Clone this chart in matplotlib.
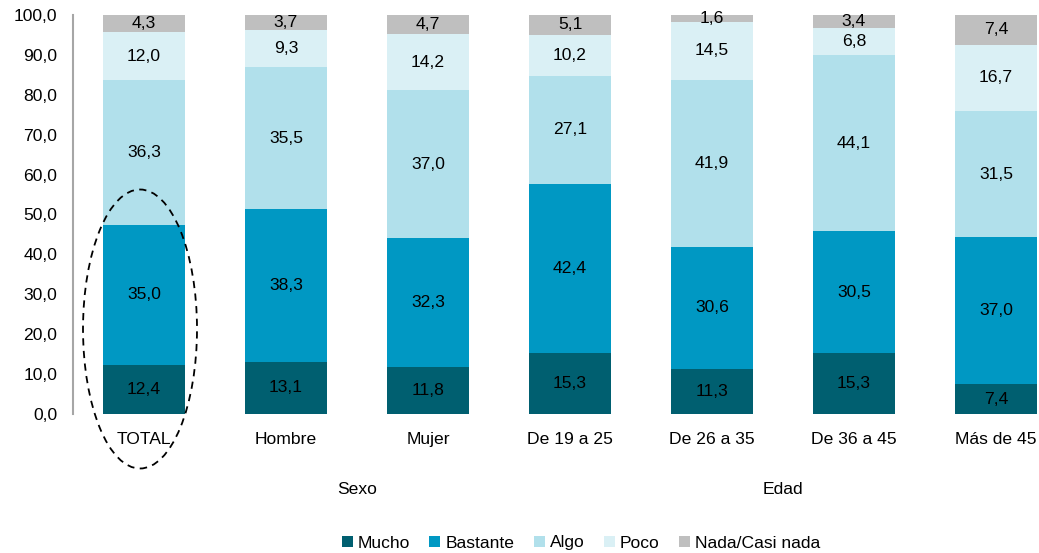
import matplotlib
matplotlib.use("Agg")
import matplotlib.pyplot as plt
import matplotlib.transforms as mtrans
from matplotlib.patches import Ellipse
import numpy as np

plt.rcParams['font.family'] = ['Liberation Sans', 'DejaVu Sans']

categories = ["TOTAL", "Hombre", "Mujer", "De 19 a 25", "De 26 a 35", "De 36 a 45", "Más de 45"]
series_names = ["Mucho", "Bastante", "Algo", "Poco", "Nada/Casi nada"]
mucho = [12.4, 13.1, 11.8, 15.3, 11.3, 15.3, 7.4]
bastante = [35.0, 38.3, 32.3, 42.4, 30.6, 30.5, 37.0]
algo = [36.3, 35.5, 37.0, 27.1, 41.9, 44.1, 31.5]
poco = [12.0, 9.3, 14.2, 10.2, 14.5, 6.8, 16.7]
nada = [4.3, 3.7, 4.7, 5.1, 1.6, 3.4, 7.4]
groups = [("Sexo", 1, 2), ("Edad", 3, 6)]
yticks = [0, 10, 20, 30, 40, 50, 60, 70, 80, 90, 100]

colors = ["#005F70", "#0098C3", "#B1E0EB", "#DAF0F5", "#BFBFBF"]
FS = 12.6

W, H = 1039, 553
fig = plt.figure(figsize=(W / 100, H / 100), dpi=100)
ax = fig.add_axes([73 / W, (H - 414) / H, 7 * 142 / W, 399 / H])

x = np.arange(len(categories))
bottom = np.zeros(len(categories))
handles = []
for name, vals, col in zip(series_names, [mucho, bastante, algo, poco, nada], colors):
    vals = np.array(vals)
    b = ax.bar(x, vals, width=0.577, bottom=bottom, color=col, label=name, zorder=2)
    handles.append(b)
    for xi, v, bt in zip(x, vals, bottom):
        ax.text(xi, bt + v / 2, f"{v:.1f}".replace(".", ","), ha="center", va="center",
                fontsize=FS, color="black", zorder=3)
    bottom += vals

ax.set_xlim(-0.5, len(categories) - 0.5)
ax.set_ylim(0, 100)
ax.set_yticks(yticks)
ax.set_yticklabels([f"{t:.1f}".replace(".", ",") for t in yticks], fontsize=FS)
ax.set_xticks(x)
ax.set_xticklabels(categories, fontsize=FS)
ax.tick_params(axis="y", length=0, pad=11.5)
ax.tick_params(axis="x", length=0, pad=13)
for s in ["top", "right", "bottom"]:
    ax.spines[s].set_visible(False)
ax.spines["left"].set_color("#A6A6A6")
ax.spines["left"].set_linewidth(1.5)

trans = mtrans.blended_transform_factory(ax.transData, ax.transAxes)
for name, i0, i1 in groups:
    ax.text((i0 + i1) / 2, (414 - 490) / 399, name, ha="center", va="center",
            fontsize=FS, transform=trans)

ell = Ellipse((140 / W, 1 - 329 / H), 114 / W, 279 / H, transform=fig.transFigure,
              fill=False, edgecolor="black", linestyle=(0, (4, 3)), linewidth=1.3)
fig.add_artist(ell)

fig.legend(handles=handles, labels=series_names, loc="center",
           bbox_to_anchor=(581 / W, 1 - 543 / H), ncol=5, frameon=False, fontsize=FS,
           handlelength=0.62, handleheight=0.62, handletextpad=0.3, columnspacing=1.1)

fig.savefig("out.png", dpi=100)
